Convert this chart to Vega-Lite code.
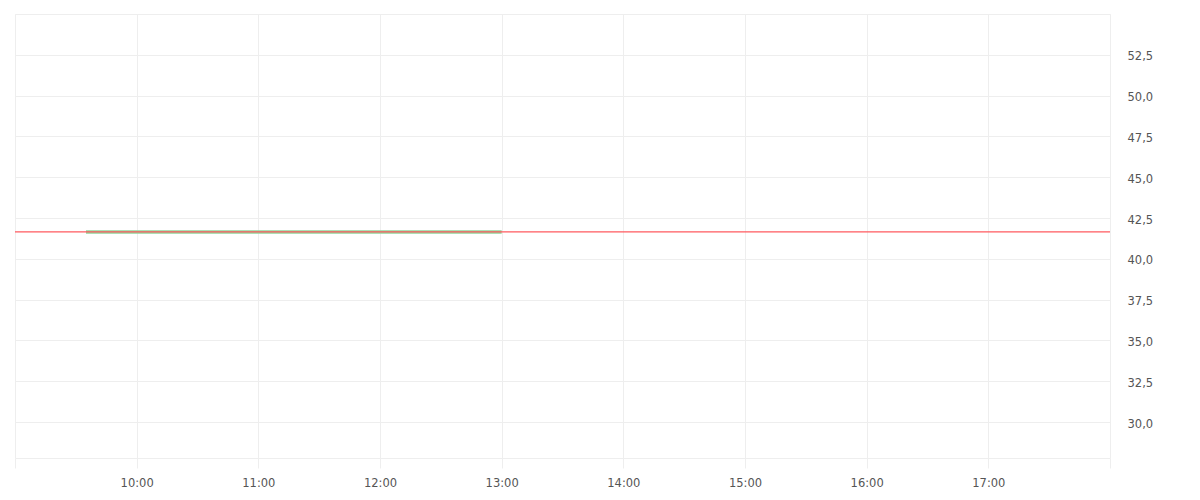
{
  "$schema": "https://vega.github.io/schema/vega-lite/v6.json",
  "autosize": "none",
  "width": 1095,
  "height": 444,
  "padding": {"left": 15, "top": 14, "right": 90, "bottom": 42},
  "background": "white",
  "datasets": {
    "session": [
      {"time": "2024-01-15T09:35:00Z", "price": 41.65},
      {"time": "2024-01-15T13:00:00Z", "price": 41.65}
    ],
    "level": [
      {"price": 41.65}
    ]
  },
  "encoding": {
    "y": {
      "field": "price",
      "type": "quantitative",
      "scale": {"domain": [27.8, 55], "nice": false, "zero": false},
      "axis": {
        "title": null,
        "orient": "right",
        "values": [30, 32.5, 35, 37.5, 40, 42.5, 45, 47.5, 50, 52.5, 55],
        "labelExpr": "datum.value >= 55 ? '' : replace(format(datum.value, '.1f'), '.', ',')",
        "grid": true,
        "gridColor": "#eeeeee",
        "domain": false,
        "ticks": false,
        "labelPadding": 17,
        "labelOffset": 2,
        "labelFontSize": 11.5,
        "labelColor": "#555555",
        "labelFont": "DejaVu Sans"
      }
    }
  },
  "layer": [
    {
      "data": {"name": "session"},
      "mark": {"type": "line", "color": "#8fd49b", "strokeWidth": 3.5},
      "encoding": {
        "x": {
          "field": "time",
          "type": "temporal",
          "scale": {"type": "utc", "domain": [{"year": 2024, "month": 1, "date": 15, "hours": 9, "utc": true}, {"year": 2024, "month": 1, "date": 15, "hours": 18, "utc": true}]},
          "axis": {
            "title": null,
            "format": "%H:%M",
            "tickCount": 9,
            "labelExpr": "utchours(datum.value) == 9 || utchours(datum.value) == 18 ? '' : datum.label",
            "grid": true,
            "gridColor": "#eeeeee",
            "domain": false,
            "ticks": true,
            "tickSize": 10,
            "tickColor": "#eeeeee",
            "labelPadding": 9,
            "labelFontSize": 11.5,
            "labelColor": "#555555",
            "labelFont": "DejaVu Sans"
          }
        }
      }
    },
    {
      "data": {"name": "level"},
      "mark": {"type": "rule", "color": "#ff5a5f", "strokeWidth": 1.2}
    }
  ],
  "config": {
    "view": {"stroke": "#eeeeee"}
  }
}
